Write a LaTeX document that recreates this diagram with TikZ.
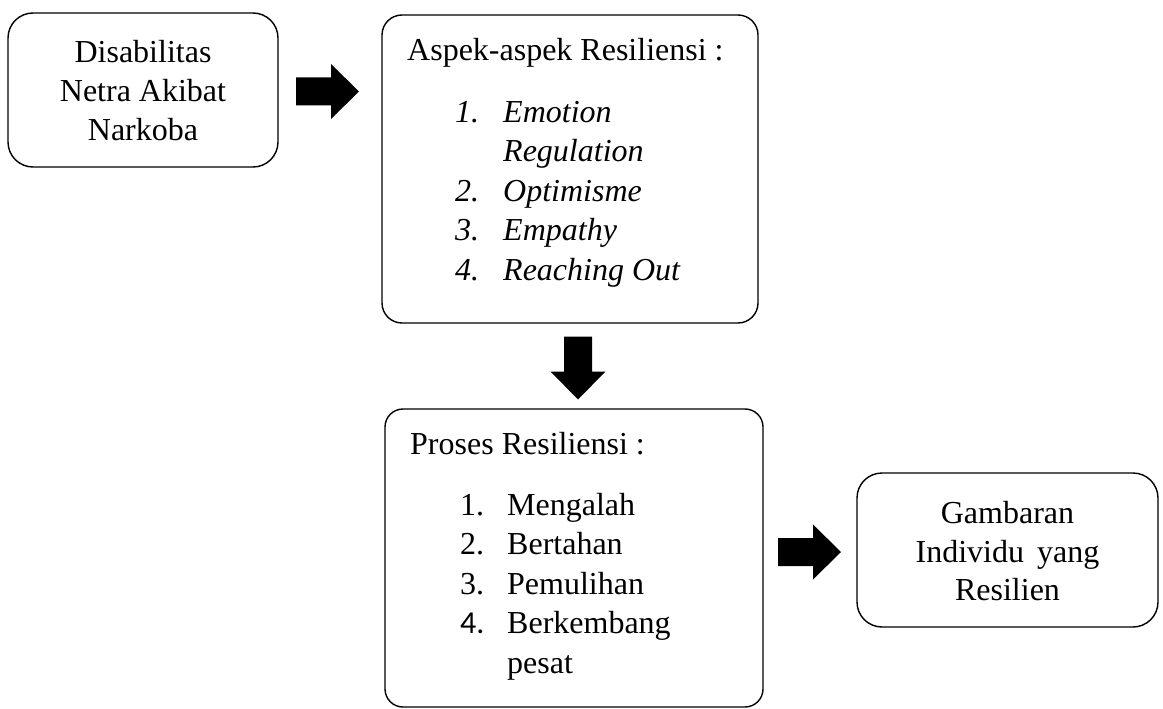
\documentclass[tikz,border=0pt]{standalone}
\usepackage{fontspec}
\setmainfont{Liberation Serif}
\newfontfamily\numfont{Carlito}
\usetikzlibrary{calc}
\begin{document}
\begin{tikzpicture}[x=1pt,y=-1pt,
  box/.style={draw=black, line width=1.4pt, fill=white, inner sep=0pt, rounded corners=#1},
  txt/.style={inner sep=0pt, anchor=base west, font=\fontsize{32}{39}\selectfont},
  ctxt/.style={inner sep=0pt, anchor=base, font=\fontsize{32}{39}\selectfont},
  itxt/.style={txt, font=\fontsize{32}{39}\selectfont\itshape},
  blockarrow/.pic={\fill[black] (-31.5,-14) -- (3.5,-14) -- (3.5,-27.5) -- (31.5,0) -- (3.5,27.5) -- (3.5,14) -- (-31.5,14) -- cycle;}
]
\useasboundingbox (0,0) rectangle (1163,709);

% boxes
\node[box=25pt, minimum width=270pt, minimum height=154pt] (b1) at (143,90) {};
\node[box=20pt, minimum width=376pt, minimum height=308pt] (b2) at (570,169) {};
\node[box=18pt, minimum width=378pt, minimum height=298pt] (b3) at (574,558) {};
\node[box=25pt, minimum width=301pt, minimum height=154pt] (b4) at (1007.5,550) {};

% box 1 text
\node[ctxt] (b1l1) at (143,63) {Disabilitas};
\node[ctxt] (b1l2) at (143,102) {Netra Akibat};
\node[ctxt] (b1l3) at (143,140) {Narkoba};

% box 2 text
\node[txt] (b2h) at (407,61) {Aspek-aspek Resiliensi :};
\node[itxt] (b2n1) at (455,122) {1.};
\node[itxt] (b2t1) at (503,122) {Emotion};
\node[itxt] (b2t1b) at (503,161.5) {Regulation};
\node[itxt] (b2n2) at (455,201) {2.};
\node[itxt] (b2t2) at (503,201) {Optimisme};
\node[itxt] (b2n3) at (455,240.5) {3.};
\node[itxt] (b2t3) at (503,240.5) {Empathy};
\node[itxt] (b2n4) at (455,280) {4.};
\node[itxt] (b2t4) at (503,280) {Reaching Out};

% box 3 text
\node[txt] (b3h) at (410,454) {Proses Resiliensi :};
\node[txt] (b3n1) at (460,515) {1.};
\node[txt] (b3t1) at (507,515) {Mengalah};
\node[txt] (b3n2) at (460,554.5) {2.};
\node[txt] (b3t2) at (507,554.5) {Bertahan};
\node[txt] (b3n3) at (460,594) {3.};
\node[txt] (b3t3) at (507,594) {Pemulihan};
\node[txt, font=\fontsize{32}{39}\numfont] (b3n4) at (460,633.5) {4.};
\node[txt] (b3t4) at (507,633.5) {Berkembang};
\node[txt] (b3t4b) at (507,673) {pesat};

% box 4 text
\node[ctxt] (b4l1) at (1007.5,523) {Gambaran};
\node[ctxt] (b4l2) at (1007.5,562) {Individu\hspace{5pt} yang};
\node[ctxt] (b4l3) at (1007.5,600) {Resilien};

% block arrows between boxes
\coordinate (a1) at ($(b1.east)!0.5!(b2.west |- b1.east)$);
\coordinate (a2) at ($(b2.south)!0.5!(b3.north)$);
\coordinate (a3) at ($(b3.east |- b4.west)!0.5!(b4.west)$);
\pic at ($(a1)+(-2.5,1.5)$) {blockarrow};
\pic[rotate=-90] at ($(a2)+(6,2)$) {blockarrow};
\pic at ($(a3)+(-0.5,2)$) {blockarrow};
\end{tikzpicture}
\end{document}
